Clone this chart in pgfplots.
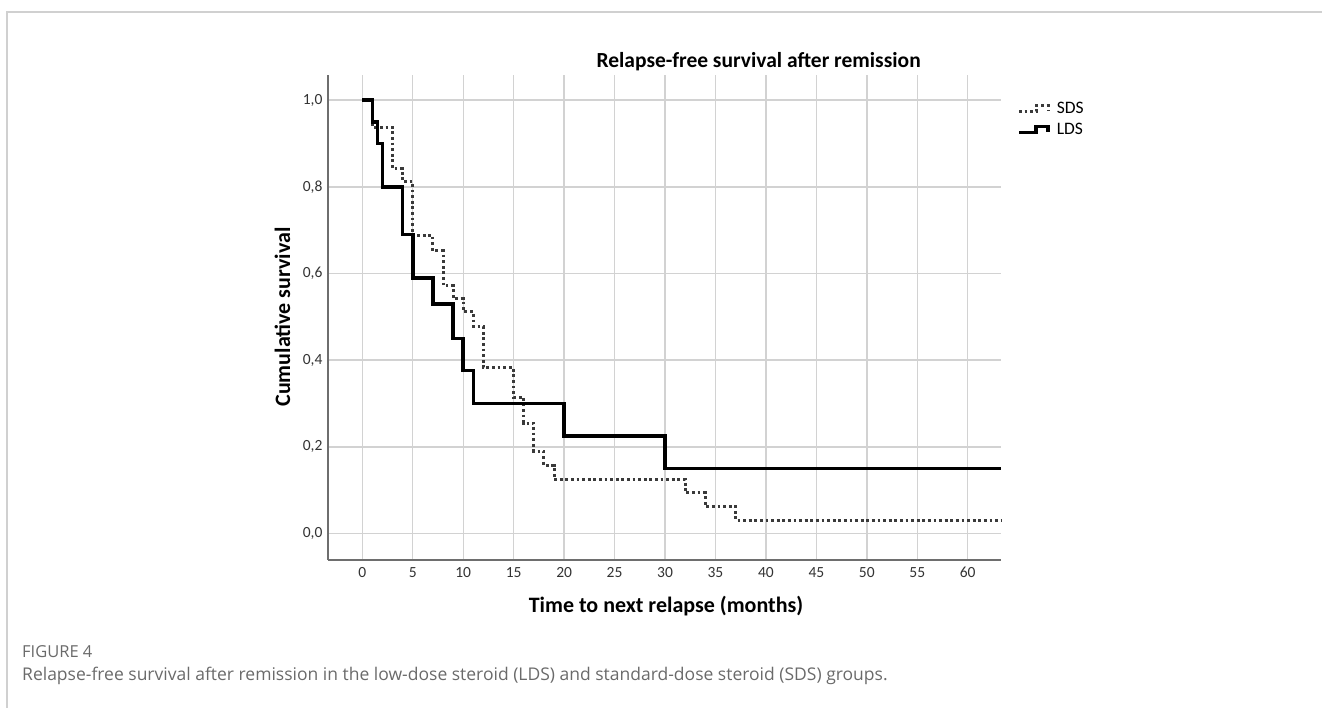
\documentclass[border=0pt]{standalone}
\usepackage{pgfplots}
\pgfplotsset{compat=1.18}
\usepackage{fontspec}
\setmainfont{Carlito}
\newfontfamily\capfont{Open Sans}
\definecolor{gridc}{HTML}{D2D2D2}
\definecolor{axisc}{HTML}{6E6E6E}
\definecolor{tickc}{HTML}{333333}
\definecolor{framec}{HTML}{D0D0D0}
\definecolor{capc}{HTML}{6A6A6A}
\definecolor{sdsc}{HTML}{3A3A3A}
\pgfplotsset{steplegend/.style={legend image code/.code={%
  \draw[##1] (0pt,-3pt) -- (17pt,-3pt) -- (17pt,3pt) -- (29pt,3pt) -- (29pt,-2.5pt);}}}
\begin{document}
\begin{tikzpicture}[x=1pt,y=1pt]
\useasboundingbox (0,0) rectangle (1322,708);
\draw[framec, line width=1.2pt] (7,-20) -- (7,696) -- (1330,696);
\begin{axis}[
  at={(328pt,148pt)}, anchor=south west,
  scale only axis, width=673pt, height=485pt,
  xmin=-3.4, xmax=63.3, ymin=-0.061, ymax=1.058,
  axis x line=bottom, axis y line=left,
  axis line style={-, draw=axisc, line width=1.3pt},
  xtick={0,5,...,60},
  ytick={0,0.2,0.4,0.6,0.8,1.0},
  major tick length=0pt,
  grid=major,
  major grid style={draw=gridc, line width=1.4pt},
  /pgf/number format/assume math mode=true,
  yticklabel={\pgfmathprintnumber[fixed, fixed zerofill, precision=1, use comma]{\tick}},
  xticklabel style={font=\fontsize{15.5}{17}\selectfont, text=tickc, yshift=-4pt},
  yticklabel style={font=\fontsize{15.5}{17}\selectfont, text=tickc, xshift=-2pt},
  legend style={draw=none, fill=none, at={(689pt,459pt)}, anchor=north west,
    font=\fontsize{17.5}{20}\selectfont, row sep=6pt, inner sep=0pt,
    nodes={inner sep=1pt, font=\fontsize{17.5}{20}\selectfont},
    /tikz/every odd column/.append style={column sep=6pt}},
  legend cell align=left,
  clip=false,
]
\addplot[const plot mark left, sdsc, line width=3pt, dash pattern=on 2.8pt off 2.8pt, steplegend]
coordinates {
(0,1) (1,0.9375) (3,0.842) (4,0.812) (5,0.6875) (7,0.652) (8,0.572) (9,0.542)
(10,0.512) (11,0.478) (12,0.382) (15,0.315) (16,0.255) (17,0.19) (18,0.157)
(19,0.125) (32,0.094) (34,0.0625) (37,0.031) (63.3,0.031)
};
\addlegendentry{SDS}
\addplot[const plot mark left, black, line width=3.6pt, steplegend]
coordinates {
(0,1) (1,0.95) (1.5,0.90) (2,0.80) (4,0.69) (5,0.59) (7,0.53) (9,0.45)
(10,0.376) (11,0.30) (20,0.225) (30,0.15) (63.3,0.15)
};
\addlegendentry{LDS}
\end{axis}
\node[font=\fontsize{21.5}{24}\selectfont\bfseries, anchor=base east, inner sep=0pt] at (921,640) {Relapse-free survival after remission};
\node[font=\fontsize{22}{26}\selectfont\bfseries, anchor=base] at (666,95) {Time to next relapse (months)};
\node[font=\fontsize{22}{26}\selectfont\bfseries, rotate=90, anchor=base, inner sep=0pt] at (290,391) {Cumulative survival};
\node[font=\capfont\fontsize{16.5}{18}\selectfont, text=capc, anchor=base west, inner sep=0pt] at (22,50) {FIGURE 4};
\node[font=\capfont\fontsize{17.5}{20}\selectfont, text=capc, anchor=base west, inner sep=0pt] at (22,27) {Relapse-free survival after remission in the low-dose steroid (LDS) and standard-dose steroid (SDS) groups.};
\end{tikzpicture}
\end{document}
